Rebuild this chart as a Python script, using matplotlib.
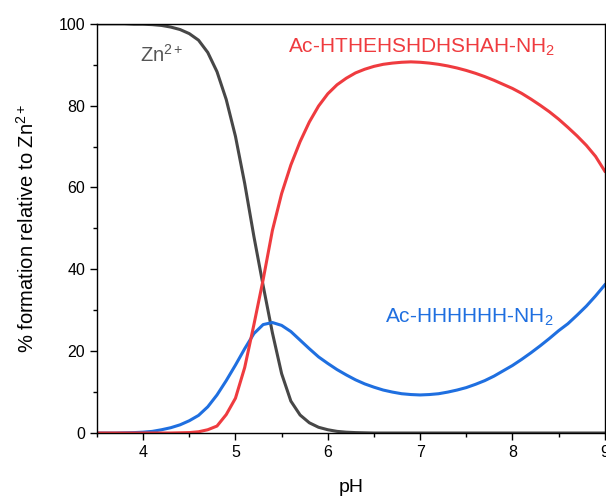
import matplotlib
matplotlib.use("Agg")
import matplotlib.pyplot as plt
from matplotlib.ticker import MultipleLocator

ph = [3.5, 3.6, 3.7, 3.8, 3.9, 4.0, 4.1, 4.2, 4.3, 4.4,
      4.5, 4.6, 4.7, 4.8, 4.9, 5.0, 5.1, 5.2, 5.3, 5.4,
      5.5, 5.6, 5.7, 5.8, 5.9, 6.0, 6.1, 6.2, 6.3, 6.4,
      6.5, 6.6, 6.7, 6.8, 6.9, 7.0, 7.1, 7.2, 7.3, 7.4,
      7.5, 7.6, 7.7, 7.8, 7.9, 8.0, 8.1, 8.2, 8.3, 8.4,
      8.5, 8.6, 8.7, 8.8, 8.9, 9.0]

zn = [100, 100, 100, 100, 99.9, 99.9, 99.8, 99.6, 99.2, 98.6,
      97.6, 96.0, 93.0, 88.3, 81.5, 72.5, 61.0, 48.0, 36.0, 24.5,
      14.5, 7.8, 4.4, 2.5, 1.4, 0.8, 0.4, 0.2, 0.1, 0.05,
      0, 0, 0, 0, 0, 0, 0, 0, 0, 0,
      0, 0, 0, 0, 0, 0, 0, 0, 0, 0,
      0, 0, 0, 0, 0, 0]

htheh = [0, 0, 0, 0, 0, 0, 0, 0, 0, 0.05,
         0.1, 0.3, 0.8, 1.7, 4.5, 8.5, 16.0, 26.5, 37.5, 49.5,
         58.5, 65.5, 71.2, 76.0, 79.9, 82.9, 85.1, 86.7, 88.0, 88.9,
         89.6, 90.1, 90.4, 90.6, 90.7, 90.6, 90.4, 90.1, 89.7, 89.2,
         88.6, 87.9, 87.1, 86.2, 85.2, 84.2, 83.0, 81.6, 80.1, 78.5,
         76.7, 74.7, 72.6, 70.3, 67.6, 64.0]

hhh = [0, 0, 0, 0.05, 0.1, 0.2, 0.4, 0.8, 1.3, 2.0,
       3.0, 4.3, 6.4, 9.3, 12.8, 16.6, 20.6, 24.3, 26.5, 27.0,
       26.3, 24.8, 22.7, 20.6, 18.6, 17.0, 15.5, 14.2, 13.0, 12.0,
       11.2, 10.5, 10.0, 9.6, 9.4, 9.3, 9.4, 9.6, 10.0, 10.5,
       11.1, 11.9, 12.8, 13.9, 15.2, 16.5, 18.0, 19.6, 21.3, 23.1,
       25.0, 26.7, 28.8, 31.0, 33.5, 36.2]

plt.rcParams['font.family'] = ['Liberation Sans', 'DejaVu Sans']
plt.rcParams['mathtext.fontset'] = 'custom'
plt.rcParams['mathtext.rm'] = 'Liberation Sans'
plt.rcParams['mathtext.it'] = 'Liberation Sans'

fig = plt.figure(figsize=(6.06, 4.96), dpi=100)
ax = fig.add_axes([0.160, 0.127, 0.838, 0.825])

c_zn = '#474747'
c_red = '#EF3B3F'
c_blue = '#1F6FE0'

ax.plot(ph, zn, color=c_zn, lw=2.2)
ax.plot(ph, hhh, color=c_blue, lw=2.2)
ax.plot(ph, htheh, color=c_red, lw=2.2)

ax.set_xlim(3.5, 9)
ax.set_ylim(0, 100)
ax.xaxis.set_major_locator(MultipleLocator(1))
ax.xaxis.set_minor_locator(MultipleLocator(0.5))
ax.yaxis.set_major_locator(MultipleLocator(20))
ax.yaxis.set_minor_locator(MultipleLocator(10))
ax.tick_params(which='both', direction='out', labelsize=11.5, width=1)
ax.tick_params(which='major', length=5)
ax.tick_params(which='minor', length=3)
for s in ax.spines.values():
    s.set_linewidth(1)

ax.set_xlabel('pH', fontsize=14, labelpad=14)
ax.set_ylabel('% formation relative to Zn$^{2+}$', fontsize=14.5, labelpad=15)

ax.text(3.97, 90.7, 'Zn$^{2+}$', color='#555555', fontsize=14.5)
ax.text(5.57, 92.9, 'Ac-HTHEHSHDHSHAH-NH$_2$', color=c_red, fontsize=15)
ax.text(6.62, 27.0, 'Ac-HHHHHH-NH$_2$', color=c_blue, fontsize=15)

fig.savefig('out.png', dpi=100)
